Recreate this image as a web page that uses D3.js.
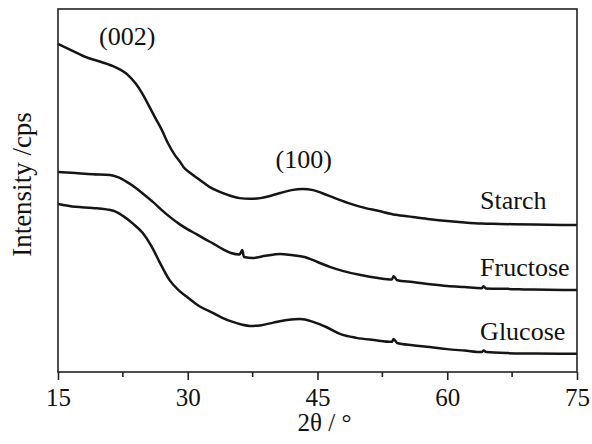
<!DOCTYPE html>
<html>
<head>
<meta charset="utf-8">
<script src="https://cdn.jsdelivr.net/npm/d3@7"></script>
<style>
  body { margin: 0; background: #fff; }
  text { font-family: "Liberation Serif", "DejaVu Serif", serif; fill: #111; }
</style>
</head>
<body>
<div id="chart"></div>
<script>
// XRD patterns, intensity in arbitrary units (curves are offset)
var starchX = [15, 16.5, 18.5, 20, 21.6, 23.1, 24, 24.7, 25.5, 26.2, 27, 27.7, 28.5, 29.1, 29.5, 30.3, 31.4, 32.5, 33.7, 35, 36, 37.2, 38.4, 39.5, 40.7, 42, 43.3, 44.5, 45.5, 47, 48.5, 50, 52, 54, 56, 58, 60, 62, 64, 66, 70, 75]
var starchY = [90.4, 88.7, 86.5, 85.4, 84.0, 81.8, 79.4, 76.9, 73.4, 70.2, 66.7, 63.1, 59.8, 57.9, 56.5, 54.8, 52.9, 51.0, 49.6, 48.5, 47.9, 47.7, 47.9, 48.5, 49.3, 50.1, 50.4, 50.1, 49.3, 47.9, 46.6, 45.5, 44.4, 43.3, 42.7, 42.1, 41.6, 41.2, 40.9, 40.8, 40.6, 40.5]

var fructoseX = [15, 17, 19, 21, 22, 23, 24, 25, 26, 27, 28, 29, 30, 31, 32, 33, 34, 35, 36, 36.3, 36.5, 37.5, 39, 40.7, 42, 43.5, 45, 46.5, 48, 50, 52, 53.6, 53.8, 54.2, 56, 58, 60, 62, 64, 64.2, 64.5, 67, 70, 75]
var fructoseY = [55.1, 54.8, 54.5, 54.3, 53.6, 52.3, 50.7, 48.8, 46.8, 44.6, 42.6, 40.8, 39.3, 38.0, 36.6, 35.3, 33.9, 32.8, 32.4, 33.6, 31.7, 31.4, 32.0, 32.5, 32.2, 31.7, 30.3, 28.9, 27.8, 26.7, 25.9, 25.5, 26.4, 25.3, 24.8, 24.2, 23.7, 23.4, 23.1, 23.6, 23.0, 22.9, 22.7, 22.6]

var glucoseX = [15, 17, 19, 21.4, 22.5, 23.7, 24.8, 25.8, 26.8, 27.9, 28.9, 29.9, 31.3, 32.9, 34, 35.2, 36.2, 37.2, 38.5, 39.9, 41.5, 43, 44.5, 46, 47.6, 49.5, 51.5, 53.6, 53.8, 54.2, 56, 58, 60, 62, 64, 64.2, 64.5, 67, 70, 75]
var glucoseY = [46.3, 45.5, 45.2, 44.4, 43.0, 40.8, 38.3, 34.7, 30.0, 25.3, 22.6, 20.7, 18.2, 16.3, 14.9, 13.8, 13.1, 12.7, 12.9, 13.6, 14.3, 14.6, 13.8, 12.4, 10.5, 9.4, 8.8, 8.3, 9.1, 8.0, 7.4, 6.9, 6.3, 5.9, 5.5, 5.9, 5.5, 5.2, 5.1, 5.0]

var seriesNames = ["Starch", "Fructose", "Glucose"]
var xTicks = [15, 30, 45, 60, 75]
var xMinorTicks = [22.5, 37.5, 52.5, 67.5]
var peakLabels = ["(002)", "(100)"]
var peakPos = [[23.0, 90.1], [43.4, 56.2]]   // [2θ, intensity] where the label sits
var labelPos = [[63.8, 44.9], [63.8, 26.4], [63.8, 8.8]]

// set the dimensions and margins of the graph
var margin = {top: 9, right: 15, bottom: 72, left: 58},
  width = 592 - margin.left - margin.right,
  height = 444 - margin.top - margin.bottom;

var svg = d3.select("#chart")
  .append("svg")
    .attr("width", 592)
    .attr("height", 444)
  .append("g")
    .attr("transform", "translate(" + margin.left + "," + margin.top + ")");

var x = d3.scaleLinear().domain([15, 75]).range([0, width])
var y = d3.scaleLinear().domain([0, 100]).range([height, 0])

var series = [
  {name: seriesNames[0], xs: starchX, ys: starchY},
  {name: seriesNames[1], xs: fructoseX, ys: fructoseY},
  {name: seriesNames[2], xs: glucoseX, ys: glucoseY}
]

var line = d3.line()
  .x(function(d) { return x(d[0]) })
  .y(function(d) { return y(d[1]) })
  .curve(d3.curveMonotoneX)

// Draw the lines
svg.selectAll("myPath")
  .data(series)
  .enter()
  .append("path")
    .attr("d", function(s) { return line(s.xs.map(function(v, i) { return [v, s.ys[i]] })) })
    .style("fill", "none")
    .style("stroke", "#151515")
    .style("stroke-width", 2.5)
    .style("stroke-linejoin", "round")

// frame
svg.append("rect")
  .attr("width", width).attr("height", height)
  .style("fill", "none").style("stroke", "#222").style("stroke-width", 1.6)

// x axis, major + minor ticks pointing out
var xAxis = svg.append("g")
  .attr("transform", "translate(0," + height + ")")
  .call(d3.axisBottom(x).tickValues(xTicks).tickSize(8).tickPadding(8).tickFormat(d3.format("d")))
xAxis.select(".domain").remove()
xAxis.selectAll("line").style("stroke", "#222").style("stroke-width", 1.6)
xAxis.selectAll("text").style("font-size", "25px").style("font-family", "Liberation Serif").style("fill", "#111")

svg.append("g")
  .attr("transform", "translate(0," + height + ")")
  .selectAll("line")
  .data(xMinorTicks).enter()
  .append("line")
    .attr("x1", function(d) { return x(d) }).attr("x2", function(d) { return x(d) })
    .attr("y1", 0).attr("y2", 5)
    .style("stroke", "#222").style("stroke-width", 1.6)

// axis titles
svg.append("text")
  .attr("x", width / 2 + 7).attr("y", height + 59)
  .style("text-anchor", "middle").style("font-size", "25px")
  .text("2θ /  °")

svg.append("text")
  .attr("transform", "translate(-27," + (height / 2 - 6) + ") rotate(-90)")
  .style("text-anchor", "middle").style("font-size", "27px")
  .text("Intensity /cps")

// peak annotations
peakLabels.forEach(function(t, i) {
  svg.append("text")
    .attr("x", x(peakPos[i][0])).attr("y", y(peakPos[i][1]))
    .style("text-anchor", "middle").style("font-size", "26px")
    .text(t)
})

// series names
seriesNames.forEach(function(n, i) {
  svg.append("text")
    .attr("x", x(labelPos[i][0])).attr("y", y(labelPos[i][1]))
    .style("font-size", "26px")
    .text(n)
})
</script>
</body>
</html>
